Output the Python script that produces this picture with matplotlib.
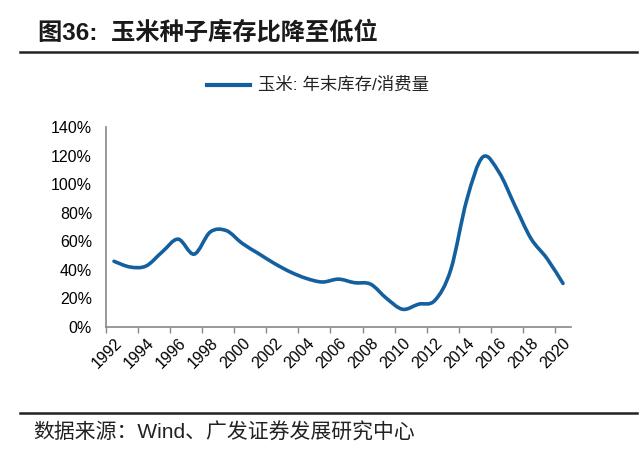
import numpy as np
import matplotlib
matplotlib.use("Agg")
import matplotlib.pyplot as plt
from matplotlib.path import Path
from matplotlib.patches import PathPatch
from matplotlib.lines import Line2D
from matplotlib.ticker import FixedLocator, FuncFormatter, NullFormatter

plt.rcParams['font.family'] = ['Liberation Sans', 'Noto Sans CJK SC', 'DejaVu Sans']

years = list(range(1992, 2021))
ratio = [46, 42, 42.7, 52.5, 61.5, 51, 66.5, 67.5, 58.5, 51.5, 44.5, 38.5, 34, 31.5,
         33.5, 31, 30, 20, 12.4, 16, 18.5, 40, 89, 119, 108.5, 85, 62, 48, 30.5]
tick_labels = [str(y) for y in range(1992, 2021, 2)]

title = "图36:  玉米种子库存比降至低位"
series_name = "玉米: 年末库存/消费量"
source = "数据来源：Wind、广发证券发展研究中心"

color = "#14609F"

fig = plt.figure(figsize=(6.4, 4.58), dpi=100)
ax = fig.add_axes([106/640, 1-327/458, (571-106)/640, 200/458])

# smoothed (Catmull-Rom -> Bezier) line through the data points
x = np.array(years, dtype=float)
y = np.array(ratio, dtype=float)
verts = [(x[0], y[0])]
codes = [Path.MOVETO]
n = len(x)
for i in range(n - 1):
    p0 = (x[i-1], y[i-1]) if i > 0 else (x[i], y[i])
    p1 = (x[i], y[i])
    p2 = (x[i+1], y[i+1])
    p3 = (x[i+2], y[i+2]) if i + 2 < n else (x[i+1], y[i+1])
    t = 1/6
    c1 = (p1[0] + (p2[0]-p0[0])*t, p1[1] + (p2[1]-p0[1])*t)
    c2 = (p2[0] - (p3[0]-p1[0])*t, p2[1] - (p3[1]-p1[1])*t)
    verts += [c1, c2, p2]
    codes += [Path.CURVE4]*3
patch = PathPatch(Path(verts, codes), facecolor='none', edgecolor=color, lw=2.6,
                  capstyle='round', joinstyle='round')
ax.add_patch(patch)

ax.set_xlim(1991.5, 2020.5)
ax.set_ylim(0, 140)
ax.yaxis.set_major_locator(FixedLocator(range(0, 141, 20)))
ax.yaxis.set_major_formatter(FuncFormatter(lambda v, p: f"{int(v)}%"))
ax.xaxis.set_major_locator(FixedLocator(np.arange(1991.5, 2021, 2)))
ax.xaxis.set_major_formatter(NullFormatter())
ax.xaxis.set_minor_locator(FixedLocator(range(1992, 2021, 2)))
ax.set_xticklabels(tick_labels, minor=True, rotation=45, ha='right',
                   rotation_mode='anchor', fontsize=11.5)
ax.tick_params(axis='x', which='minor', length=0, pad=6)
ax.tick_params(axis='x', which='major', length=4, color='#888888', width=1)
ax.tick_params(axis='y', length=0, labelsize=11.5, pad=10)
for s in ['top', 'right']:
    ax.spines[s].set_visible(False)
for s in ['left', 'bottom']:
    ax.spines[s].set_color('#888888')
    ax.spines[s].set_linewidth(1.2)

# title and rules
fig.text(38/640, 1-33/458, title, fontsize=17.5, fontweight='bold', va='center', ha='left',
         color='#1a1a1a')
fig.add_artist(Line2D([20/640, 637/640], [1-52/458, 1-52/458], color='#222222', lw=1.8))
fig.add_artist(Line2D([20/640, 637/640], [1-413/458, 1-413/458], color='#222222', lw=1.8))

# legend
fig.add_artist(Line2D([207/640, 250/640], [1-85/458, 1-85/458], color=color, lw=3))
fig.text(258/640, 1-85/458, series_name, fontsize=12.5, va='center', ha='left', color='#222222')

# source
fig.text(33/640, 1-433/458, source, fontsize=15, va='center', ha='left', color='#222222')

fig.savefig("out.png", dpi=100)
